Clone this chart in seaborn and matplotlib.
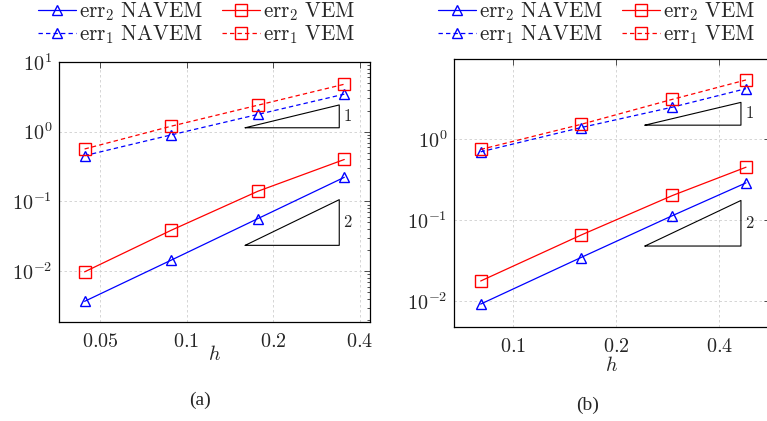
import matplotlib
matplotlib.use('Agg')
import matplotlib.pyplot as plt
from matplotlib.ticker import FixedLocator, FixedFormatter, FuncFormatter, LogLocator, NullLocator
import numpy as np
import pandas as pd
import seaborn as sns

# panel (a)
h_a = [0.0442, 0.0884, 0.177, 0.354]
err2_navem_a = [0.0037, 0.0144, 0.0567, 0.222]
err2_vem_a = [0.0098, 0.0386, 0.140, 0.40]
err1_navem_a = [0.454, 0.90, 1.77, 3.46]
err1_vem_a = [0.566, 1.20, 2.40, 4.80]

# panel (b)
h_b = [0.0803, 0.1574, 0.292, 0.479]
err2_navem_b = [0.0092, 0.0343, 0.113, 0.286]
err2_vem_b = [0.0177, 0.0648, 0.200, 0.446]
err1_navem_b = [0.69, 1.37, 2.45, 4.14]
err1_vem_b = [0.738, 1.50, 3.06, 5.30]

xticks_a = [0.05, 0.1, 0.2, 0.4]
xticklabels_a = ['0.05', '0.1', '0.2', '0.4']
xticks_b = [0.1, 0.2, 0.4]
xticklabels_b = ['0.1', '0.2', '0.4']

# slope triangles: (x0, x1), base y for slope 1 and slope 2
tri_x_a = [0.16, 0.34]
tri_base_a = {1: 1.14, 2: 0.0235}
tri_x_b = [0.2426, 0.463]
tri_base_b = {1: 1.47, 2: 0.0477}

labels = [r'$\mathrm{err}_2\ \mathrm{NAVEM}$', r'$\mathrm{err}_1\ \mathrm{NAVEM}$',
          r'$\mathrm{err}_2\ \mathrm{VEM}$', r'$\mathrm{err}_1\ \mathrm{VEM}$']
BLUE = '#0000ff'
RED = '#ff0000'

sns.set_style('white')
plt.rcParams['mathtext.fontset'] = 'cm'
plt.rcParams['font.family'] = ['DejaVu Serif']
plt.rcParams['axes.unicode_minus'] = True

FS_TICK = 14.5
FS_LEG = 15.2


def draw_panel(ax, h, e2n, e1n, e2v, e1v, xlim, ylim, xticks, xticklabels,
               tri_x, tri_base, hpad):
    styles = [
        (e2n, BLUE, '^', '-', 7.5, labels[0]),
        (e1n, BLUE, '^', (0, (3.5, 2.5)), 7.5, labels[1]),
        (e2v, RED, 's', '-', 9, labels[2]),
        (e1v, RED, 's', (0, (3.5, 2.5)), 9, labels[3]),
    ]
    for vals, col, mk, ls, ms, lab in styles:
        df = pd.DataFrame({'h': h, 'err': vals})
        sns.lineplot(data=df, x='h', y='err', ax=ax, color=col, marker=mk,
                     markersize=ms, markerfacecolor='none', markeredgecolor=col,
                     markeredgewidth=1.0, linestyle=ls, linewidth=0.9, label=lab,
                     legend=False)
    ax.set_xscale('log', base=2)
    ax.set_yscale('log')
    ax.set_xlim(*xlim)
    ax.set_ylim(*ylim)

    # slope triangles
    for slope, y0 in tri_base.items():
        x0, x1 = tri_x
        y1 = y0 * (x1 / x0) ** slope
        ax.plot([x0, x1, x1, x0], [y0, y0, y1, y0], color='black', lw=0.8)
        ax.text(x1, np.sqrt(y0 * y1), r'$%d$' % slope, fontsize=12,
                ha='left', va='center',
                transform=ax.transData + matplotlib.transforms.ScaledTranslation(
                    3 / 72, 0, ax.figure.dpi_scale_trans))

    ax.xaxis.set_major_locator(FixedLocator(xticks))
    ax.xaxis.set_major_formatter(FixedFormatter([r'$%s$' % t for t in xticklabels]))
    ax.xaxis.set_minor_locator(NullLocator())
    ax.yaxis.set_major_locator(LogLocator(base=10, numticks=10))
    ax.yaxis.set_minor_locator(LogLocator(base=10, subs=np.arange(2, 10), numticks=20))
    ax.yaxis.set_major_formatter(FuncFormatter(lambda v, p: r'$10^{%d}$' % int(round(np.log10(v)))))
    ax.tick_params(which='both', direction='in', top=True, right=True,
                   labelsize=FS_TICK, color='#333333', width=0.6)
    ax.tick_params(which='major', length=4)
    ax.tick_params(axis='y', which='major', pad=5)
    ax.tick_params(axis='x', which='major', pad=7)
    ax.tick_params(which='minor', length=2.2)
    ax.grid(True, which='major', color='#cfcfcf', linestyle=(0, (3, 3)), linewidth=0.6)
    for s in ax.spines.values():
        s.set_color('black')
        s.set_linewidth(0.9)
    ax.set_xlabel(r'$h$', fontsize=FS_TICK, labelpad=hpad)
    ax.set_ylabel('')


fig = plt.figure(figsize=(7.67, 4.21), dpi=100)
ax_a = fig.add_axes([59 / 767, (421 - 322) / 421, 311 / 767, 260 / 421])
ax_b = fig.add_axes([454 / 767, (421 - 327) / 421, 316 / 767, 268 / 421])

draw_panel(ax_a, h_a, err2_navem_a, err1_navem_a, err2_vem_a, err1_vem_a,
           (0.036, 0.435), (1.87e-3, 10), xticks_a, xticklabels_a,
           tri_x_a, tri_base_a, -4)
draw_panel(ax_b, h_b, err2_navem_b, err1_navem_b, err2_vem_b, err1_vem_b,
           (0.0671, 0.563), (0.0048, 9.6), xticks_b, xticklabels_b,
           tri_x_b, tri_base_b, 0)

for ax, cx in ((ax_a, 197), (ax_b, 597)):
    handles, labs = ax.get_legend_handles_labels()
    fig.legend(handles, labs, loc='center', bbox_to_anchor=(cx / 767, 1 - 23 / 421),
               ncol=2, frameon=False, fontsize=FS_LEG, handlelength=1.8,
               handletextpad=0.15, columnspacing=0.9, labelspacing=0.0,
               borderpad=0)

fig.text(200 / 767, 1 - 400 / 421, '(a)', fontsize=14, family='Liberation Serif',
         ha='center', va='center')
fig.text(588 / 767, 1 - 405 / 421, '(b)', fontsize=14, family='Liberation Serif',
         ha='center', va='center')

fig.savefig('out.png', dpi=100)
